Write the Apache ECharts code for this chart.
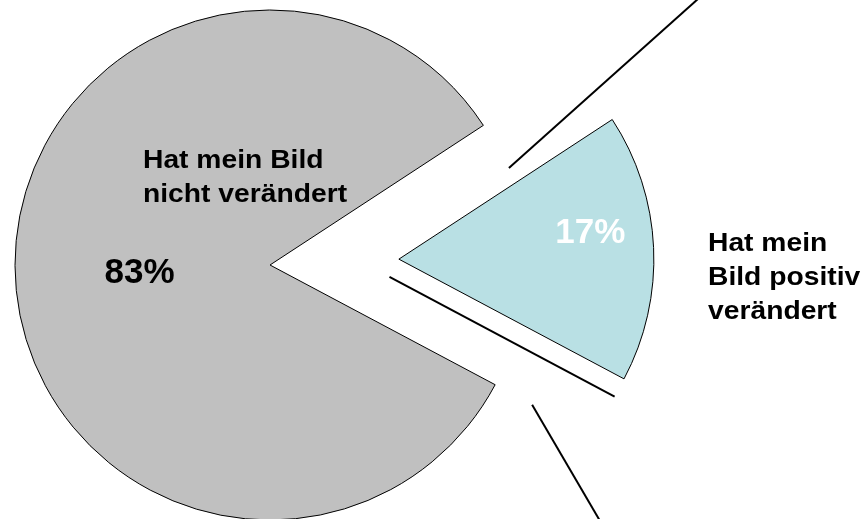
<!DOCTYPE html>
<html>
<head>
<meta charset="utf-8">
<script src="https://cdn.jsdelivr.net/npm/echarts@6/dist/echarts.min.js"></script>
<style>
  html, body { margin: 0; padding: 0; background: #ffffff; }
  #chart { width: 867px; height: 519px; }
</style>
</head>
<body>
<div id="chart"></div>
<script>
// Survey answers and their shares (percent)
const categories = ['Hat mein Bild positiv verändert', 'Hat mein Bild nicht verändert'];
const shares = [17, 83];
// Category names as they are broken into lines
const nameLines = [
  ['Hat mein', 'Bild positiv', 'verändert'],
  ['Hat mein Bild', 'nicht verändert']
];
const sliceColors = ['#B9E0E4', '#C0C0C0'];
const percentColors = ['#FFFFFF', '#000000'];

// Pie geometry
const CX = 270, CY = 265, R = 255;
const EXPLODE = 129;      // how far the small slice is pulled out
const MID_ANGLE = 2.6;    // direction (deg) of the pulled-out slice
const FONT = '"Liberation Sans", Arial, Helvetica, sans-serif';

const total = shares.reduce((a, b) => a + b, 0);
const halfSpan = shares[0] / total * 180;
const startAngle = MID_ANGLE + halfSpan;

const rad = d => d * Math.PI / 180;
const dirOf = d => [Math.cos(rad(d)), -Math.sin(rad(d))];
const add = (p, v, k) => [p[0] + v[0] * k, p[1] + v[1] * k];

// Apex of the pulled-out slice and its two straight edges
const apex = add([CX, CY], dirOf(MID_ANGLE), EXPLODE);
const upperAngle = MID_ANGLE + halfSpan;
const lowerAngle = MID_ANGLE - halfSpan;
const upperDir = dirOf(upperAngle), upperNormal = dirOf(upperAngle + 90);
const lowerDir = dirOf(lowerAngle), lowerNormal = dirOf(lowerAngle - 90);

// Thin line running alongside the lower edge of the slice
const shadowStart = add(apex, lowerNormal, 20);
const shadowEnd = add(shadowStart, lowerDir, R);
// Guide lines leading away from the slice
const upGuideStart = add(add(apex, upperDir, 142), upperNormal, 16);
const upGuideEnd = add(upGuideStart, dirOf(upperAngle + 8.6), 520);
const lowGuideStart = add(add(apex, lowerDir, 186), lowerNormal, 66);
const lowGuideEnd = add(lowGuideStart, dirOf(lowerAngle - 31.7), 420);

function line(a, b, w) {
  return {
    type: 'line', silent: true, z: 10,
    shape: { x1: a[0], y1: a[1], x2: b[0], y2: b[1] },
    style: { stroke: '#000000', lineWidth: w }
  };
}

function nameText(lines, x, y) {
  return {
    type: 'text', silent: true, z: 10, x: x, y: y, scaleX: 1.13, scaleY: 1,
    style: {
      text: lines.join('\n'),
      font: 'bold 25px ' + FONT,
      fill: '#000000',
      lineHeight: 34,
      align: 'left',
      verticalAlign: 'top'
    }
  };
}

// Shift of each percent label from its default inside position
const labelShift = [[61, -20], [0, 2]];

const chart = echarts.init(document.getElementById('chart'), null, { renderer: 'canvas' });
chart.setOption({
  animation: false,
  backgroundColor: '#ffffff',
  series: [{
    type: 'pie',
    center: [CX, CY],
    radius: [0, R],
    startAngle: startAngle,
    clockwise: true,
    selectedMode: 'single',
    selectedOffset: EXPLODE,
    avoidLabelOverlap: false,
    silent: true,
    emphasis: { disabled: true },
    itemStyle: { borderColor: '#000000', borderWidth: 1 },
    label: {
      show: true,
      position: 'inside',
      fontFamily: FONT,
      fontWeight: 'bold',
      fontSize: 35,
      formatter: p => Math.round(p.percent) + '%'
    },
    labelLine: { show: false },
    labelLayout: p => ({ dx: labelShift[p.dataIndex][0], dy: labelShift[p.dataIndex][1] }),
    data: categories.map((name, i) => ({
      name: name,
      value: shares[i],
      selected: i === 0,
      itemStyle: { color: sliceColors[i] },
      label: { color: percentColors[i] }
    }))
  }],
  graphic: [
    line(shadowStart, shadowEnd, 2),
    line(upGuideStart, upGuideEnd, 2),
    line(lowGuideStart, lowGuideEnd, 2),
    nameText(nameLines[1], 143, 144),
    nameText(nameLines[0], 708, 227)
  ]
});
</script>
</body>
</html>
